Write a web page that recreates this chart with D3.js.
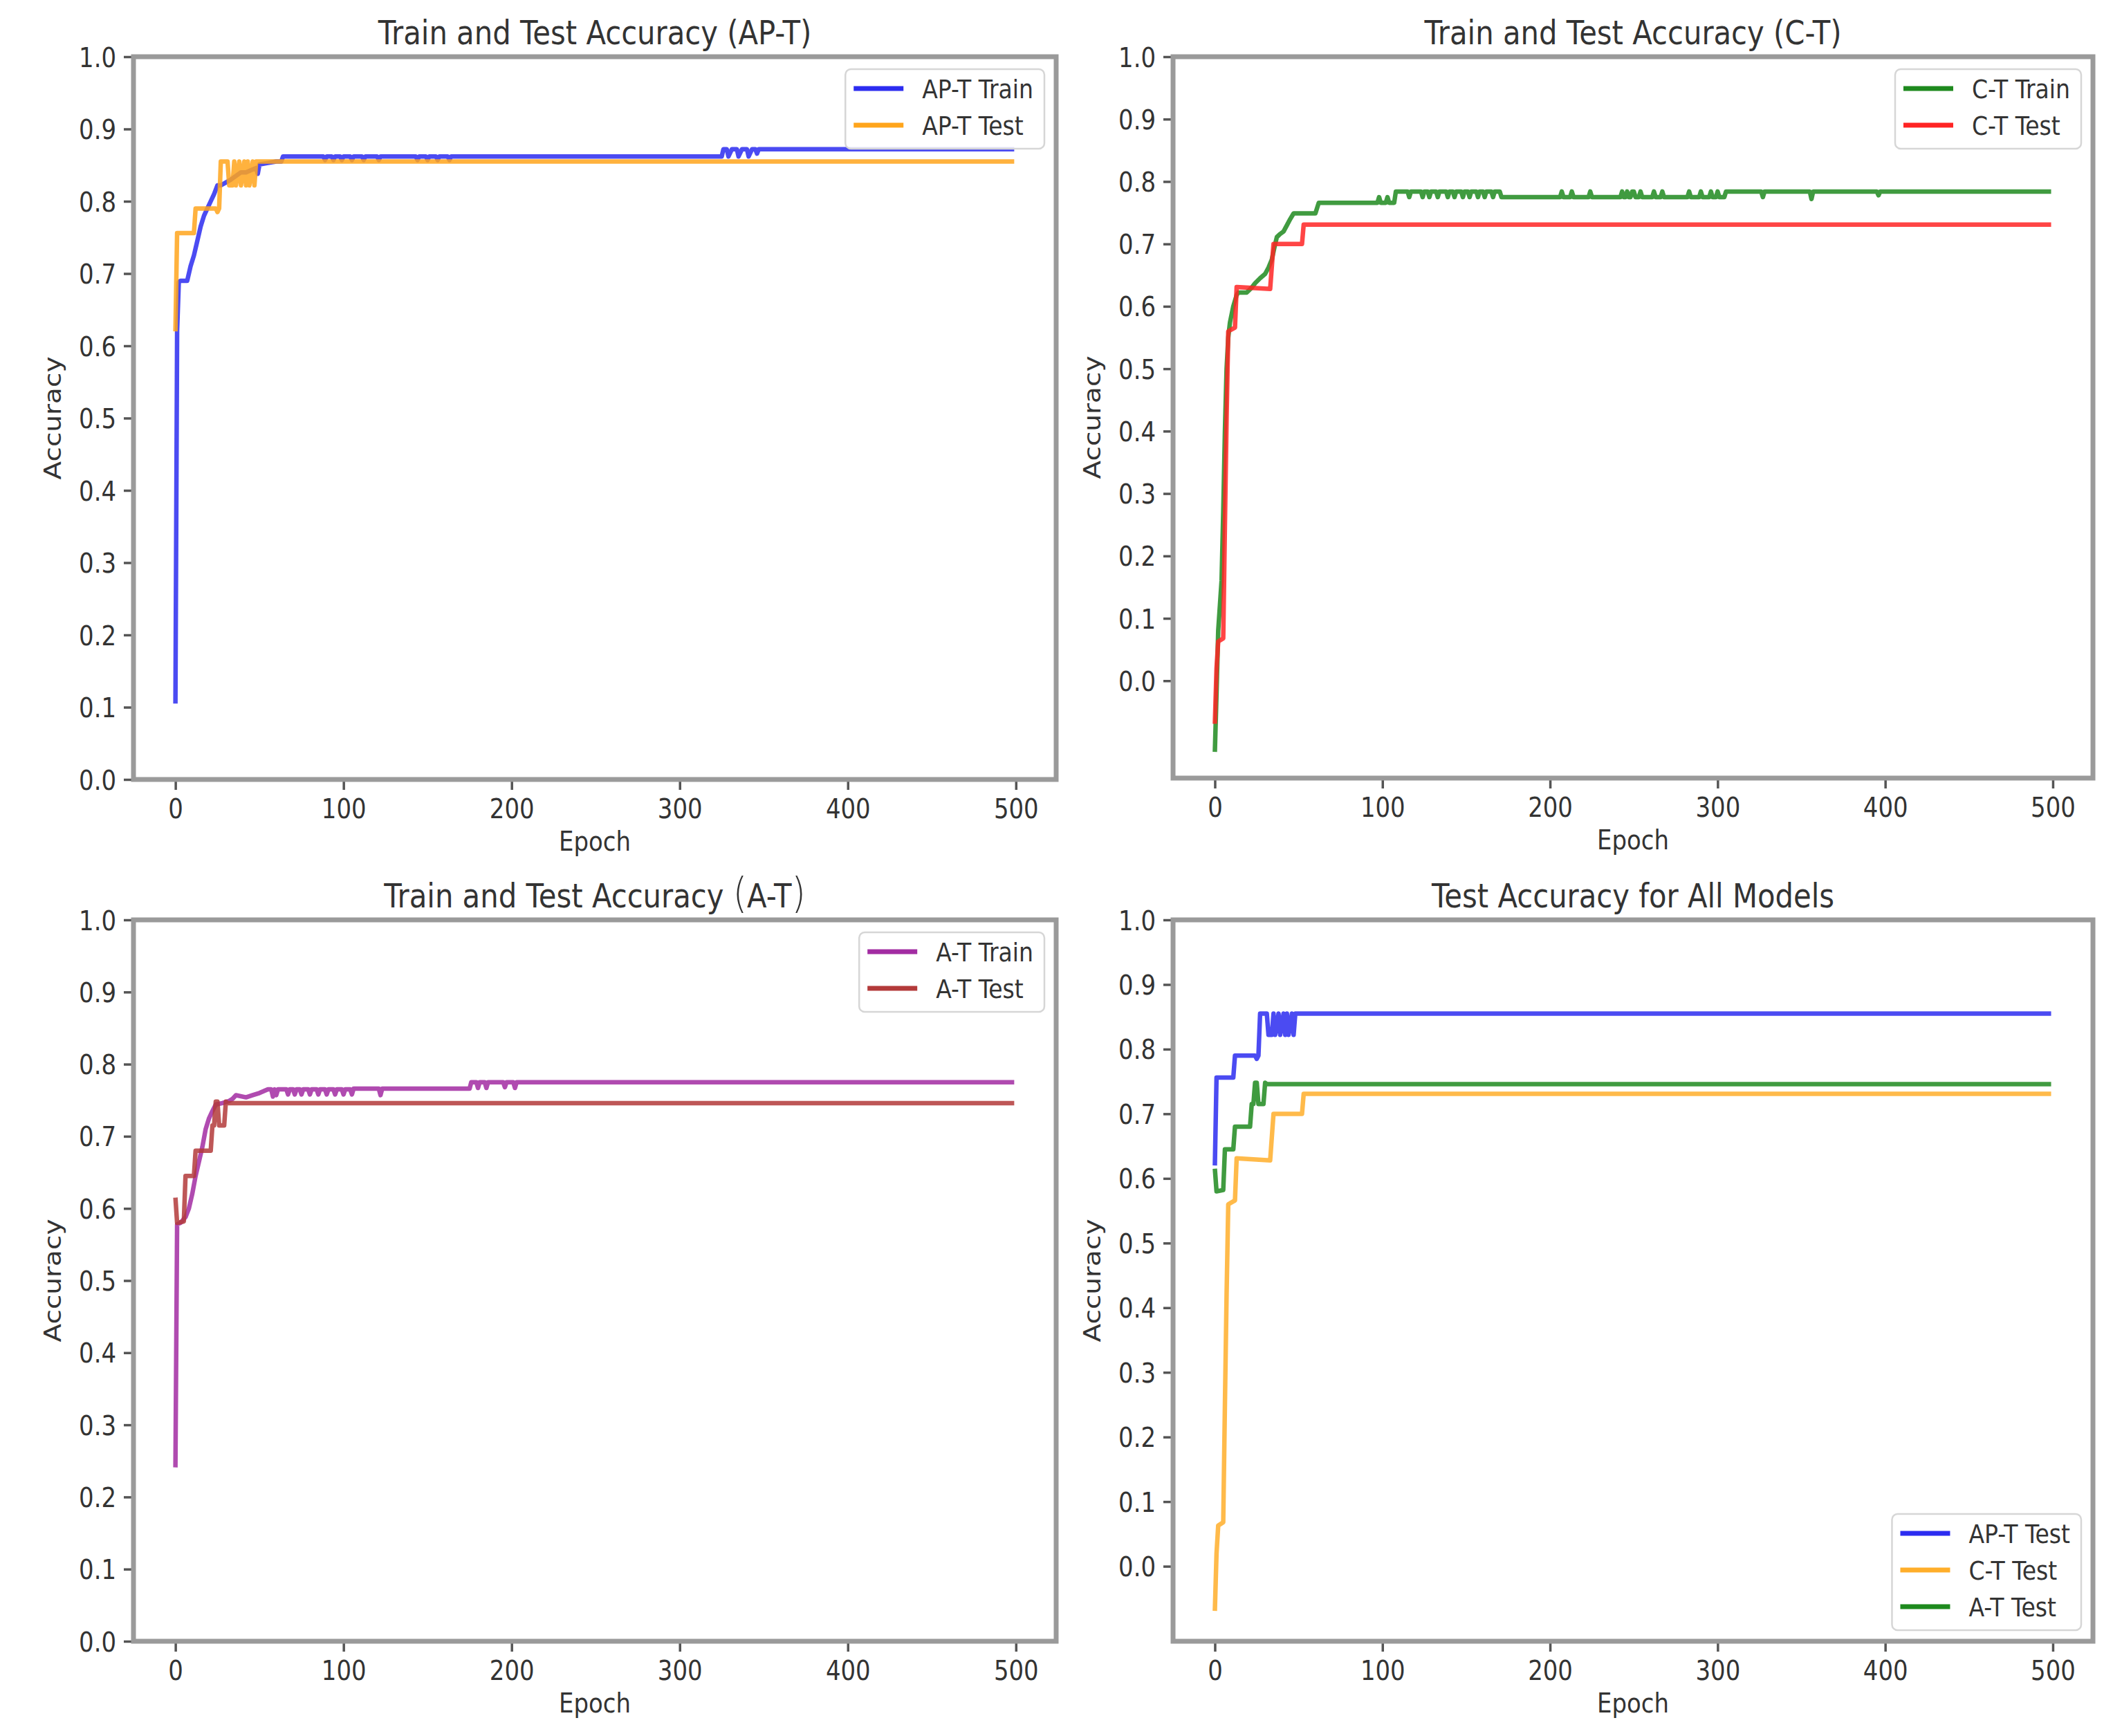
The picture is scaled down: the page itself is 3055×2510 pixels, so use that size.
<!DOCTYPE html>
<html>
<head>
<meta charset="utf-8">
<script src="https://d3js.org/d3.v7.min.js"></script>
<style>
  body { margin: 0; background: #fff; }
  text { font-family: "DejaVu Sans", sans-serif; fill: #333; }
</style>
</head>
<body>
<div id="chart"></div>
<script>
var W = 3055, H = 2510;
var SX = 0.87; // the source picture is squeezed sideways, text too

// ---- data: [epoch, accuracy] break points ----
var epochTicks = [0, 100, 200, 300, 400, 500];
var accTicks = [0.0, 0.1, 0.2, 0.3, 0.4, 0.5, 0.6, 0.7, 0.8, 0.9, 1.0];

var apTrain = [[0,0.105],[1,0.62],[2,0.688],[3,0.69],[7,0.69],[9,0.71],[11,0.725],[13,0.745],[15,0.765],
  [17,0.78],[19,0.79],[21,0.8],[23,0.81],[25,0.822],[27,0.822],[30,0.826],[33,0.83],[36,0.835],[39,0.84],
  [42,0.84],[45,0.843],[48,0.846],[49,0.838],[50,0.851],[55,0.853],[60,0.855],[63,0.855],[64,0.862],
  [88,0.862],[89,0.857],[90,0.862],[93,0.862],[94,0.857],[95,0.862],[98,0.862],[99,0.857],[100,0.862],
  [104,0.862],[105,0.857],[106,0.862],[111,0.862],[112,0.857],[113,0.862],[120,0.862],[121,0.857],[122,0.862],
  [143,0.862],[144,0.857],[145,0.862],[149,0.862],[150,0.857],[151,0.862],[155,0.862],[156,0.857],[157,0.862],
  [162,0.862],[163,0.857],[164,0.862],[325,0.862],[326,0.872],[328,0.872],[329,0.862],[331,0.872],[334,0.872],
  [335,0.862],[337,0.872],[340,0.872],[341,0.862],[343,0.872],[345,0.872],[346,0.866],[347,0.872],[499,0.872]];

var apTest = [[0,0.62],[1,0.756],[11,0.756],[12,0.79],[24,0.79],[25,0.785],[26,0.79],[27,0.855],[31,0.855],
  [32,0.822],[34,0.822],[35,0.855],[36,0.822],[38,0.855],[39,0.822],[41,0.855],[42,0.822],[43,0.855],
  [44,0.822],[46,0.855],[47,0.822],[48,0.855],[499,0.855]];

var ctTrain = [[0,-0.114],[1,-0.02],[2,0.08],[3,0.12],[4,0.16],[5,0.27],[6,0.40],[7,0.50],[8,0.55],[9,0.574],
  [11,0.60],[13,0.618],[14,0.622],[19,0.622],[22,0.63],[24,0.637],[27,0.645],[30,0.652],[32,0.662],[34,0.675],
  [36,0.70],[37,0.711],[39,0.716],[41,0.72],[43,0.73],[45,0.74],[47,0.749],[60,0.749],[62,0.766],[97,0.766],
  [98,0.775],[99,0.766],[102,0.766],[103,0.775],[104,0.766],[107,0.766],[108,0.784],
  [115,0.784],[116,0.775],[117,0.784],[123,0.784],[124,0.775],[125,0.784],[127,0.784],[128,0.775],[129,0.784],
  [132,0.784],[133,0.775],[134,0.784],[138,0.784],[139,0.775],[140,0.784],[142,0.784],[143,0.775],[144,0.784],
  [147,0.784],[148,0.775],[149,0.784],[151,0.784],[152,0.775],[153,0.784],[156,0.784],[157,0.775],[158,0.784],
  [160,0.784],[161,0.775],[162,0.784],[165,0.784],[166,0.775],[167,0.784],[170,0.784],[171,0.775],
  [206,0.775],[207,0.784],[208,0.775],[212,0.775],[213,0.784],[214,0.775],[223,0.775],[224,0.784],[225,0.775],
  [242,0.775],[243,0.784],[244,0.775],[245,0.775],[246,0.784],[247,0.775],[248,0.775],[249,0.784],[250,0.784],
  [251,0.775],[253,0.775],[254,0.784],[255,0.775],[261,0.775],[262,0.784],[263,0.775],[266,0.775],[267,0.784],
  [268,0.775],[282,0.775],[283,0.784],[284,0.775],[289,0.775],[290,0.784],[291,0.775],[295,0.775],[296,0.784],
  [297,0.775],[299,0.775],[300,0.784],[301,0.775],[304,0.775],[305,0.784],[326,0.784],[327,0.775],[328,0.784],
  [355,0.784],[356,0.772],[357,0.784],[395,0.784],[396,0.778],[397,0.784],[499,0.784]];

var ctTest = [[0,-0.069],[1,0.02],[2,0.063],[5,0.068],[6,0.25],[7,0.42],[8,0.56],[12,0.566],[13,0.631],
  [33,0.628],[35,0.70],[52,0.70],[53,0.731],[499,0.731]];

var atTrain = [[0,0.241],[1,0.578],[3,0.58],[6,0.588],[8,0.60],[10,0.62],[12,0.645],[14,0.665],[16,0.685],
  [18,0.71],[20,0.725],[22,0.735],[24,0.744],[28,0.746],[32,0.749],[34,0.752],[36,0.757],[42,0.754],[46,0.757],
  [50,0.76],[55,0.765],[57,0.765],[58,0.755],[59,0.765],[60,0.757],[61,0.765],[66,0.765],[67,0.758],[68,0.765],
  [70,0.765],[71,0.758],[72,0.765],[74,0.765],[75,0.758],[76,0.765],[79,0.765],[80,0.758],[81,0.765],
  [84,0.765],[85,0.758],[86,0.765],[89,0.765],[90,0.758],[91,0.765],[94,0.765],[95,0.758],[96,0.765],
  [99,0.765],[100,0.758],[101,0.765],[104,0.765],[105,0.758],[106,0.766],[121,0.766],[122,0.757],[123,0.766],
  [175,0.766],[176,0.775],[179,0.775],[180,0.767],[181,0.775],[184,0.775],[185,0.767],[186,0.775],
  [195,0.775],[196,0.768],[197,0.775],[201,0.775],[202,0.767],[203,0.775],[499,0.775]];

var atTest = [[0,0.615],[1,0.58],[5,0.582],[6,0.645],[11,0.645],[12,0.68],[21,0.68],[22,0.715],[23,0.715],
  [24,0.748],[25,0.748],[26,0.715],[29,0.715],[30,0.748],[31,0.746],[499,0.746]];

// ---- layout ----
var panels = [
  { title: "Train and Test Accuracy (AP-T)", l: 193, t: 82, r: 1527, b: 1127, yDomain: [0, 1], legend: "top",
    series: [{ name: "AP-T Train", data: apTrain, color: "#2c2cf0" },
             { name: "AP-T Test", data: apTest, color: "#ffa51c" }] },
  { title: "Train and Test Accuracy (C-T)", l: 1696, t: 82, r: 3026, b: 1125, yDomain: [-0.156, 1], legend: "top",
    series: [{ name: "C-T Train", data: ctTrain, color: "#1e8a1e" },
             { name: "C-T Test", data: ctTest, color: "#ff2424" }] },
  { title: "Train and Test Accuracy (A-T)", bigParens: true, l: 193, t: 1330, r: 1527, b: 2373, yDomain: [0, 1], legend: "top",
    series: [{ name: "A-T Train", data: atTrain, color: "#a22ca2" },
             { name: "A-T Test", data: atTest, color: "#b33a3a" }] },
  { title: "Test Accuracy for All Models", l: 1696, t: 1330, r: 3026, b: 2373, yDomain: [-0.116, 1], legend: "bottom",
    series: [{ name: "AP-T Test", data: apTest, color: "#2c2cf0" },
             { name: "C-T Test", data: ctTest, color: "#ffae2a" },
             { name: "A-T Test", data: atTest, color: "#1e8a1e" }] }
];

var svg = d3.select("#chart").append("svg")
    .attr("width", W)
    .attr("height", H);

svg.append("rect").attr("width", W).attr("height", H).attr("fill", "#fff");

function squeezed(g, x, y, str, size) {
  return g.append("text")
      .attr("transform", "translate(" + x + "," + y + ") scale(" + SX + ",1)")
      .style("font-size", size + "px")
      .text(str);
}

panels.forEach(function(p) {
  var x = d3.scaleLinear().domain([-24.95, 523.95]).range([p.l, p.r]);
  var y = d3.scaleLinear().domain(p.yDomain).range([p.b, p.t]);
  var g = svg.append("g");

  // lines
  var line = d3.line()
      .x(function(d) { return x(d[0]); })
      .y(function(d) { return y(d[1]); });

  p.series.forEach(function(s) {
    g.append("path")
        .datum(s.data)
        .attr("d", line)
        .attr("fill", "none")
        .attr("stroke", s.color)
        .attr("stroke-opacity", 0.85)
        .attr("stroke-width", 6.5)
        .attr("stroke-linejoin", "round");
  });

  // axes
  var xAxis = g.append("g")
      .attr("transform", "translate(0," + p.b + ")")
      .call(d3.axisBottom(x).tickValues(epochTicks).tickSize(15).tickSizeOuter(0).tickFormat(d3.format("d")));
  xAxis.select(".domain").remove();
  xAxis.selectAll(".tick line").attr("stroke", "#555").attr("stroke-width", 3.5);
  xAxis.selectAll(".tick text")
      .attr("y", 0).attr("dy", 0)
      .attr("transform", "translate(0,56) scale(" + SX + ",1)")
      .attr("fill", "#333")
      .style("font-size", "39px")
      .style("font-family", "DejaVu Sans");

  var yAxis = g.append("g")
      .attr("transform", "translate(" + p.l + ",0)")
      .call(d3.axisLeft(y).tickValues(accTicks).tickSize(14).tickSizeOuter(0).tickFormat(d3.format(".1f")));
  yAxis.select(".domain").remove();
  yAxis.selectAll(".tick line").attr("stroke", "#555").attr("stroke-width", 3.5);
  yAxis.selectAll(".tick text")
      .attr("x", 0).attr("dy", "0.36em")
      .attr("transform", "translate(-25,0) scale(" + SX + ",1)")
      .attr("fill", "#333")
      .style("font-size", "39px")
      .style("font-family", "DejaVu Sans");

  // spines
  g.append("rect")
      .attr("x", p.l).attr("y", p.t)
      .attr("width", p.r - p.l).attr("height", p.b - p.t)
      .attr("fill", "none")
      .attr("stroke", "#9a9a9a")
      .attr("stroke-width", 7);

  // title
  var cx = (p.l + p.r) / 2;
  var title = squeezed(g, cx, p.t - 18, "", 48).attr("text-anchor", "middle").attr("fill", "#262626");
  if (p.bigParens) {
    var i0 = p.title.indexOf("("), i1 = p.title.indexOf(")");
    title.append("tspan").text(p.title.slice(0, i0));
    title.append("tspan").style("font-size", "60px").style("font-weight", 300).text("(");
    title.append("tspan").text(p.title.slice(i0 + 1, i1));
    title.append("tspan").style("font-size", "60px").style("font-weight", 300).text(")");
  } else {
    title.text(p.title);
  }

  // axis labels
  squeezed(g, cx, p.b + 103, "Epoch", 39).attr("text-anchor", "middle");
  g.append("text")
      .attr("transform", "translate(" + (p.l - 105) + "," + ((p.t + p.b) / 2) + ") rotate(-90) scale(1," + SX + ")")
      .attr("text-anchor", "middle")
      .style("font-size", "39px")
      .text("Accuracy");

  // legend
  var rowH = 53, n = p.series.length;
  var boxH = 28 + (n - 1) * rowH + 34;
  var boxTop = p.legend === "top" ? p.t + 18 : p.b - 16 - boxH;
  var lg = g.append("g");
  var box = lg.append("rect")
      .attr("y", boxTop).attr("height", boxH)
      .attr("rx", 8).attr("ry", 8)
      .attr("fill", "#fff").attr("fill-opacity", 0.85)
      .attr("stroke", "#d6d6d6").attr("stroke-width", 2.5);
  var maxW = 0;
  var items = p.series.map(function(s, i) {
    var yy = boxTop + 28 + i * rowH;
    var ln = lg.append("line")
        .attr("y1", yy).attr("y2", yy)
        .attr("stroke", s.color).attr("stroke-width", 7);
    var tx = lg.append("text")
        .attr("dy", "0.36em")
        .style("font-size", "38px")
        .text(s.name);
    maxW = Math.max(maxW, tx.node().getComputedTextLength() * SX);
    return { ln: ln, tx: tx, yy: yy };
  });
  var boxW = 111 + maxW + 16;
  var boxLeft = p.r - 17 - boxW;
  box.attr("x", boxLeft).attr("width", boxW);
  items.forEach(function(it) {
    it.ln.attr("x1", boxLeft + 12).attr("x2", boxLeft + 84);
    it.tx.attr("transform", "translate(" + (boxLeft + 111) + "," + it.yy + ") scale(" + SX + ",1)");
  });
});
</script>
</body>
</html>
